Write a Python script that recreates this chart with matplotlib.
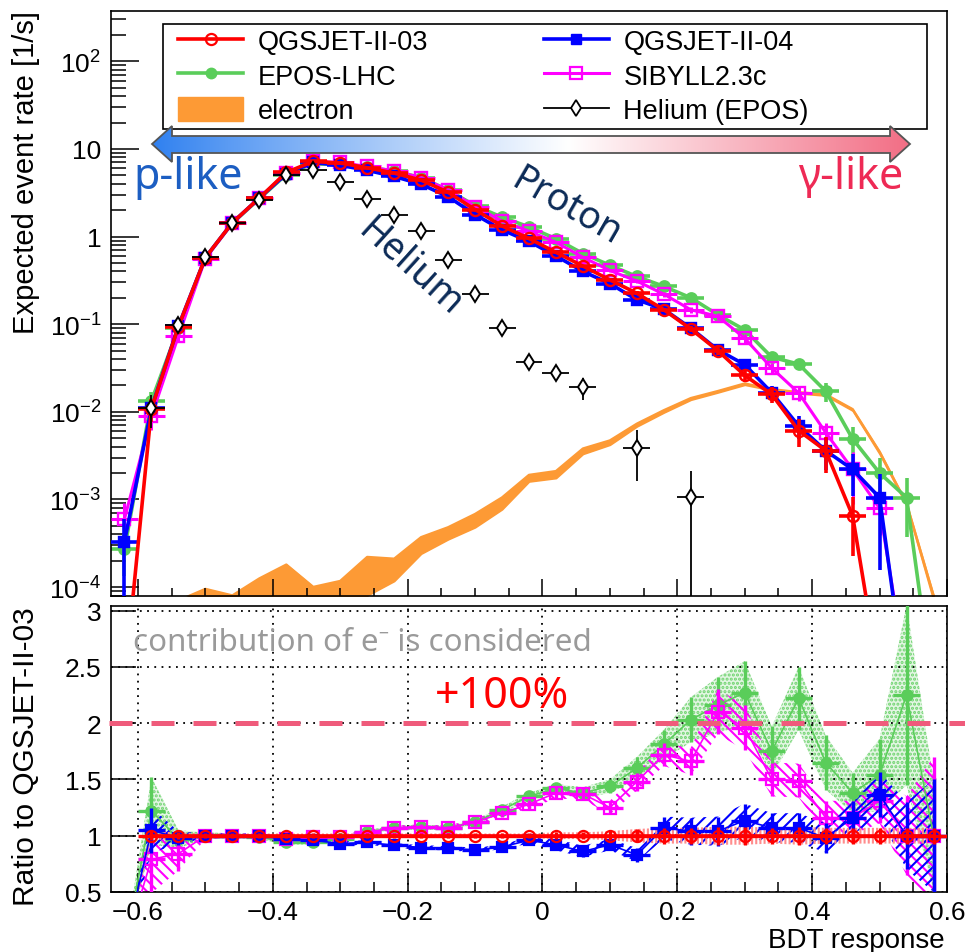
import numpy as np
import matplotlib
matplotlib.use("Agg")
import matplotlib.pyplot as plt
from matplotlib.lines import Line2D
from matplotlib.patches import Patch, Polygon, Rectangle
from matplotlib.ticker import (FixedLocator, FixedFormatter, MultipleLocator,
                               FuncFormatter, LogLocator, NullFormatter)

plt.rcParams['font.family'] = ['Liberation Sans', 'DejaVu Sans']
plt.rcParams['mathtext.fontset'] = 'custom'
plt.rcParams['mathtext.rm'] = 'Liberation Sans'
plt.rcParams['mathtext.it'] = 'Liberation Sans:italic'
plt.rcParams['mathtext.default'] = 'regular'
plt.rcParams['hatch.linewidth'] = 1.5

nan = np.nan
# ---------------- data ----------------
bdt = [-0.62, -0.58, -0.54, -0.50, -0.46, -0.42, -0.38, -0.34, -0.30, -0.26,
       -0.22, -0.18, -0.14, -0.10, -0.06, -0.02, 0.02, 0.06, 0.10, 0.14,
       0.18, 0.22, 0.26, 0.30, 0.34, 0.38, 0.42, 0.46, 0.50, 0.54, 0.58]
half_bin = 0.02

rate_qgs03 = [8e-6, 0.0108, 0.094, 0.575, 1.44, 2.75, 5.4, 7.2, 6.9, 6.1,
              5.3, 4.4, 3.2, 2.03, 1.32, 0.95, 0.66, 0.46, 0.32, 0.225,
              0.146, 0.088, 0.050, 0.026, 0.0158, 0.0061, 0.0036, 0.00065, 9e-6, 1e-7, 1e-7]
rate_qgs04 = [3.3e-4, 0.011, 0.095, 0.575, 1.44, 2.75, 5.2, 7.0, 6.5, 5.7,
              4.85, 3.95, 2.85, 1.78, 1.19, 0.88, 0.60, 0.40, 0.29, 0.19,
              0.148, 0.090, 0.051, 0.0345, 0.0165, 0.0069, 0.0036, 0.0022, 0.00105, 6e-6, 1e-7]
rate_epos = [2.7e-4, 0.0133, 0.090, 0.575, 1.42, 2.7, 5.1, 6.8, 6.7, 6.2,
             5.6, 4.7, 3.4, 2.25, 1.66, 1.29, 0.94, 0.64, 0.47, 0.35,
             0.27, 0.20, 0.128, 0.086, 0.042, 0.035, 0.0172, 0.0049, 0.0020, 0.00105, 6e-6]
rate_sibyll = [6e-4, 0.0089, 0.073, 0.56, 1.42, 2.75, 5.3, 7.2, 7.0, 6.3,
               5.6, 4.7, 3.4, 2.2, 1.5, 1.15, 0.86, 0.58, 0.41, 0.31,
               0.22, 0.146, 0.123, 0.069, 0.0316, 0.0164, 0.0058, 0.0022, 0.00079, 1e-5, 1e-7]
rate_helium = [nan, 0.011, 0.098, 0.58, 1.42, 2.6, 5.0, 5.8, 4.2, 2.7,
               1.75, 1.15, 0.54, 0.22, 0.09, 0.037, 0.028, 0.019, nan, 0.0039,
               nan, 0.00107, nan, nan, nan, nan, nan, nan, nan, nan, nan]
rate_electron_low = [1e-6, 1e-6, 1e-6, 1e-6, 1e-6, 1e-6, 1e-6, 1e-6, 1e-6, 8e-5,
                     1.17e-4, 2.4e-4, 3.5e-4, 4.8e-4, 7.7e-4, 1.6e-3, 1.75e-3, 3.3e-3, 4.2e-3, 6.8e-3,
                     0.0098, 0.0137, 0.0166, 0.0203, 0.0176, 0.0162, 0.0153, 0.0103, 0.0033, 0.00085, 7e-5]
rate_electron_high = [1e-6, 1e-6, 7e-5, 9.5e-5, 8e-5, 1.25e-4, 1.8e-4, 1.0e-4, 1.17e-4, 2.2e-4,
                      2.1e-4, 3.7e-4, 4.8e-4, 6.8e-4, 1.05e-3, 1.9e-3, 2.1e-3, 3.8e-3, 4.7e-3, 7.3e-3,
                      0.0104, 0.0143, 0.0172, 0.0210, 0.0181, 0.0167, 0.0158, 0.0107, 0.0035, 0.0009, 8e-5]

# relative uncertainties of the rates
relerr_qgs03 = [0, 0.3, 0.1, 0.04, 0.03, 0.03, 0.03, 0.03, 0.03, 0.03, 0.03, 0.03, 0.03, 0.03, 0.03,
                0.03, 0.03, 0.03, 0.04, 0.05, 0.06, 0.08, 0.1, 0.15, 0.2, 0.35, 0.45, 0.65, 0, 0, 0]
relerr_qgs04 = [0.8, 0.25, 0.1, 0.04, 0.03, 0.03, 0.03, 0.03, 0.03, 0.03, 0.03, 0.03, 0.03, 0.03, 0.03,
                0.03, 0.03, 0.03, 0.04, 0.05, 0.06, 0.08, 0.1, 0.15, 0.2, 0.3, 0.4, 0.5, 0.85, 0, 0]
relerr_epos = [0.5, 0.25, 0.1, 0.04, 0.03, 0.03, 0.03, 0.03, 0.03, 0.03, 0.03, 0.03, 0.03, 0.03, 0.03,
               0.03, 0.03, 0.03, 0.04, 0.04, 0.05, 0.06, 0.08, 0.1, 0.15, 0.15, 0.25, 0.35, 0.5, 0.65, 0]
relerr_sibyll = [0.5, 0.3, 0.12, 0.04, 0.03, 0.03, 0.03, 0.03, 0.03, 0.03, 0.03, 0.03, 0.03, 0.03, 0.03,
                 0.03, 0.03, 0.03, 0.04, 0.05, 0.06, 0.08, 0.1, 0.12, 0.15, 0.2, 0.3, 0.6, 0.5, 0, 0]
relerr_helium = [0, 0.4, 0.12, 0.05, 0.04, 0.04, 0.04, 0.04, 0.04, 0.05, 0.06, 0.07, 0.1, 0.12, 0.15,
                 0.2, 0.2, 0.28, 0, 0.58, 0, 0.97, 0, 0, 0, 0, 0, 0, 0, 0, 0]

# ratio to QGSJET-II-03 (electron contribution included)
ratio_qgs03 = [nan, 1.0, 1.0, 1.0, 1.0, 1.0, 1.0, 1.0, 1.0, 1.0, 1.0, 1.0, 1.0, 1.0, 1.0, 1.0,
               1.0, 1.0, 1.0, 1.0, 1.0, 1.0, 1.0, 1.0, 1.0, 1.0, 1.0, 1.0, 1.0, 1.0, 1.0]
ratio_err_qgs03 = [0, 0.04, 0.03, 0.02, 0.02, 0.02, 0.02, 0.02, 0.02, 0.02, 0.02, 0.02, 0.02, 0.02, 0.02,
                   0.02, 0.03, 0.03, 0.04, 0.06, 0.07, 0.07, 0.08, 0.08, 0.07, 0.08, 0.07, 0.07, 0.07, 0.07, 0.07]
ratio_epos = [0, 1.22, 0.97, 1.0, 1.0, 0.99, 0.94, 0.94, 0.97, 1.03, 1.07, 1.075, 1.07, 1.12, 1.23,
              1.35, 1.42, 1.38, 1.44, 1.60, 1.81, 2.03, 2.16, 2.27, 1.75, 2.22, 1.65, 1.38, 1.54, 2.25, 1.0]
ratio_err_epos = [0, 0.3, 0.08, 0.03, 0.02, 0.02, 0.02, 0.02, 0.02, 0.02, 0.02, 0.02, 0.02, 0.02, 0.03,
                  0.03, 0.04, 0.05, 0.06, 0.1, 0.13, 0.2, 0.25, 0.28, 0.22, 0.28, 0.24, 0.18, 0.32, 0.8, 0.5]
ratio_qgs04 = [0, 1.05, 0.98, 1.0, 1.0, 1.0, 0.97, 0.96, 0.93, 0.94, 0.915, 0.895, 0.89, 0.873, 0.90,
               0.96, 0.92, 0.86, 0.92, 0.83, 1.07, 1.04, 1.04, 1.135, 1.07, 1.07, 0.98, 1.16, 1.365, 1.0, 1.0]
ratio_err_qgs04 = [0, 0.2, 0.06, 0.02, 0.02, 0.02, 0.02, 0.02, 0.02, 0.02, 0.02, 0.02, 0.02, 0.02, 0.02,
                   0.03, 0.05, 0.05, 0.05, 0.06, 0.1, 0.12, 0.13, 0.15, 0.13, 0.13, 0.13, 0.15, 0.2, 0.3, 0.5]
ratio_sibyll = [0, 0.79, 0.84, 1.0, 1.0, 1.0, 0.97, 0.99, 0.99, 1.03, 1.07, 1.08, 1.07, 1.12, 1.20,
                1.28, 1.38, 1.37, 1.25, 1.48, 1.72, 1.66, 2.10, 1.96, 1.50, 1.49, 1.16, 1.16, 1.31, 1.0, 1.0]
ratio_err_sibyll = [0, 0.3, 0.15, 0.03, 0.02, 0.02, 0.02, 0.02, 0.02, 0.02, 0.02, 0.02, 0.02, 0.03, 0.03,
                    0.04, 0.05, 0.05, 0.06, 0.08, 0.1, 0.12, 0.2, 0.2, 0.15, 0.15, 0.15, 0.15, 0.2, 0.35, 0.7]

legend_labels = ['QGSJET-II-03', 'EPOS-LHC', 'electron', 'QGSJET-II-04', 'SIBYLL2.3c', 'Helium (EPOS)']
ytick_vals_top = [1e-4, 1e-3, 1e-2, 1e-1, 1, 10, 100]
ytick_labels_top = ['$10^{-4}$', '$10^{-3}$', '$10^{-2}$', '$10^{-1}$', '1', '10', '$10^{2}$']

# ---------------- style ----------------
C_RED, C_BLUE, C_GREEN, C_MAG = '#ff0000', '#0000ff', '#5acd5a', '#ff00ff'
C_ORANGE = '#fd9a35'
W, H = 965, 953

fig = plt.figure(figsize=(W / 100, H / 100), dpi=100)


def fx(p):
    return p / W


def fy(p):
    return 1 - p / H


ax1 = fig.add_axes([fx(111), fy(596.5), fx(947) - fx(111), fy(11.5) - fy(596.5)])
ax2 = fig.add_axes([fx(111), fy(893), fx(947) - fx(111), fy(607) - fy(893)], sharex=ax1)

x = np.array(bdt)


def draw_rate(ax, y, rel, color, marker, mfc, ms, z, lw=2.6, mew=1.7):
    y = np.asarray(y, float)
    rel = np.asarray(rel, float)
    hi = y * rel
    lo = np.minimum(y * rel, y * 0.999)
    ax.errorbar(x, y, xerr=half_bin, yerr=[lo, hi], color=color, lw=lw, elinewidth=lw,
                marker=marker, ms=ms, mfc=mfc, mec=color, mew=mew, capsize=0, zorder=z)


# electron band
ax1.fill_between(x, rate_electron_low, rate_electron_high, color=C_ORANGE, lw=1.2, zorder=1)
ax1.plot(x, rate_electron_high, color=C_ORANGE, lw=1.8, zorder=1)

draw_rate(ax1, rate_epos, relerr_epos, C_GREEN, 'o', C_GREEN, 7.5, 2)
draw_rate(ax1, rate_sibyll, relerr_sibyll, C_MAG, 's', 'none', 8, 3, lw=2.2)
draw_rate(ax1, rate_qgs04, relerr_qgs04, C_BLUE, 's', C_BLUE, 7.5, 4)
draw_rate(ax1, rate_qgs03, relerr_qgs03, C_RED, 'o', 'none', 8, 5)

he = np.asarray(rate_helium, float)
he_rel = np.asarray(relerr_helium, float)
m = ~np.isnan(he)
ax1.errorbar(x[m], he[m], xerr=half_bin,
             yerr=[np.minimum(he[m] * he_rel[m], he[m] * 0.999), he[m] * he_rel[m]],
             fmt='d', color='black', mfc='white', mec='black', ms=8, mew=1.4,
             elinewidth=1.3, capsize=0, zorder=8)

ax1.set_yscale('log')
ax1.set_ylim(8e-5, 380)
ax1.set_xlim(-0.64, 0.60)
ax1.yaxis.set_major_locator(FixedLocator(ytick_vals_top))
ax1.yaxis.set_major_formatter(FixedFormatter(ytick_labels_top))
ax1.yaxis.set_minor_locator(LogLocator(base=10, subs=np.arange(2, 10) * 1.0, numticks=30))
ax1.yaxis.set_minor_formatter(NullFormatter())
ax1.tick_params(axis='y', which='major', direction='in', length=20, width=1.1,
                left=True, right=False, labelsize=19, pad=7)
ax1.tick_params(axis='y', which='minor', direction='in', length=11, width=1.1, right=False)
ax1.xaxis.set_major_locator(MultipleLocator(0.2))
ax1.xaxis.set_minor_locator(MultipleLocator(0.05))
ax1.tick_params(axis='x', which='major', direction='in', length=12, width=1.1, top=False,
                labelbottom=False)
ax1.tick_params(axis='x', which='minor', direction='in', length=6, width=1.1, top=False)
for s in ax1.spines.values():
    s.set_linewidth(1.2)
ax1.set_ylabel('Expected event rate [1/s]', fontsize=21, loc='top')
ax1.yaxis.set_label_coords(-0.085, 1.0)

# ---------------- ratio panel ----------------
def band(ax, r, e, color, hatch, face, z):
    r = np.nan_to_num(np.asarray(r, float))
    e = np.asarray(e, float)
    ax.fill_between(x, r - e, r + e, facecolor=face, edgecolor=color, hatch=hatch,
                    lw=0, zorder=z)


band(ax2, ratio_epos, ratio_err_epos, '#6fd36f', '....', '#e3f6e3', 1)
band(ax2, ratio_sibyll, ratio_err_sibyll, C_MAG, '\\\\\\', 'none', 2)
band(ax2, ratio_qgs04, ratio_err_qgs04, C_BLUE, '///', 'none', 3)
band(ax2, ratio_qgs03, ratio_err_qgs03, '#ff8c8c', '||||', 'none', 4)


def draw_ratio(ax, r, e, color, marker, mfc, ms, z, lw=1.2):
    ax.plot(x, r, color=color, lw=lw, zorder=z)
    ax.errorbar(x, r, xerr=half_bin, yerr=e, fmt=marker, color=color, mfc=mfc, mec=color,
                ms=ms, mew=1.6, elinewidth=2.4, capsize=0, zorder=z)


draw_ratio(ax2, ratio_epos, ratio_err_epos, C_GREEN, 'o', C_GREEN, 7.5, 5)
draw_ratio(ax2, ratio_sibyll, ratio_err_sibyll, C_MAG, 's', 'none', 8, 6)
draw_ratio(ax2, ratio_qgs04, ratio_err_qgs04, C_BLUE, 's', C_BLUE, 7.5, 7)
draw_ratio(ax2, ratio_qgs03, ratio_err_qgs03, C_RED, 'o', 'none', 8, 8, lw=2.6)

ax2.axhline(2.0, xmin=-0.002, xmax=1.022, color='#ef5b7b', lw=3.6,
            ls=(0, (4.6, 3.8)), clip_on=False, zorder=9)

ax2.set_ylim(0.5, 3.04)
ax2.yaxis.set_major_locator(MultipleLocator(0.5))
ax2.yaxis.set_major_formatter(FuncFormatter(lambda v, p: f"{round(v, 2):g}"))
ax2.xaxis.set_major_locator(MultipleLocator(0.2))
ax2.xaxis.set_minor_locator(MultipleLocator(0.05))


def xfmt(v, p):
    v = round(v, 2)
    if abs(v) < 1e-9:
        return '0'
    return f"{v:g}".replace('-', '\u2212')


ax2.xaxis.set_major_formatter(FuncFormatter(xfmt))
ax2.tick_params(axis='y', which='major', direction='in', length=18, width=1.1, right=False,
                labelsize=19, pad=7)
ax2.tick_params(axis='x', which='major', direction='in', length=14, width=1.1, top=False,
                labelsize=19, pad=6)
ax2.tick_params(axis='x', which='minor', direction='in', length=7, width=1.1, top=False)
ax2.grid(which='major', ls=(0, (1, 3)), color='black', lw=1.3, zorder=0)
for s in ax2.spines.values():
    s.set_linewidth(1.2)
ax2.set_ylabel('Ratio to QGSJET-II-03', fontsize=21.5, loc='top')
ax2.yaxis.set_label_coords(-0.085, 1.0)
ax2.set_xlabel('BDT response', fontsize=20, loc='right')
ax2.xaxis.set_label_coords(0.9976, -0.122)

# ---------------- legend ----------------
handles = [
    Line2D([], [], color=C_RED, lw=2.6, marker='o', mfc='none', mec=C_RED, ms=8, mew=1.6),
    Line2D([], [], color=C_GREEN, lw=2.6, marker='o', ms=7.5),
    Patch(facecolor=C_ORANGE, edgecolor=C_ORANGE),
    Line2D([], [], color=C_BLUE, lw=2.6, marker='s', ms=7.5),
    Line2D([], [], color=C_MAG, lw=2.2, marker='s', mfc='none', ms=8, mew=1.6),
    Line2D([], [], color='black', lw=1.3, marker='d', mfc='white', ms=8, mew=1.3),
]
leg = fig.legend(handles, legend_labels, ncol=2, loc='upper left',
                 bbox_to_anchor=(fx(174), fy(25)), frameon=False, fontsize=19.5,
                 borderpad=0.15, borderaxespad=0, handlelength=2.4, handletextpad=0.55,
                 columnspacing=4.25, labelspacing=0.28, handleheight=0.95, numpoints=1)

# ---------------- overlay annotations ----------------
ov = fig.add_axes([0, 0, 1, 1], zorder=10)
ov.set_xlim(0, W)
ov.set_ylim(H, 0)
ov.axis('off')
ov.add_patch(Rectangle((163, 25), 764, 105, facecolor='none', edgecolor='black', lw=1.2))

arrow_xy = [(152, 145), (172, 127), (172, 137), (890, 137), (890, 127), (910, 145),
            (890, 163), (890, 154), (172, 154), (172, 163)]
arrow = Polygon(arrow_xy, closed=True, facecolor='none', edgecolor='#555555', lw=1.3, zorder=6)
ov.add_patch(arrow)
t = np.linspace(0, 1, 600)
c_blue = np.array([0.18, 0.50, 0.94])
c_pink = np.array([0.95, 0.43, 0.52])
grad = np.ones((len(t), 3))
left = t < 0.55
w1 = (t[left] / 0.55) ** 0.9
grad[left] = c_blue[None, :] * (1 - w1[:, None]) + w1[:, None]
w2 = (t[~left] - 0.55) / 0.45
grad[~left] = (1 - w2[:, None]) + c_pink[None, :] * w2[:, None]
img = ov.imshow(grad[None, :, :], extent=(152, 910, 163, 127), aspect='auto', zorder=5,
                interpolation='bilinear')
img.set_clip_path(arrow)
ov.set_xlim(0, W)
ov.set_ylim(H, 0)

NOTO = ['Noto Sans', 'DejaVu Sans']
ov.text(133, 189, 'p-like', color='#1c5ec2', fontsize=31, family=NOTO, ha='left', va='baseline')
ov.text(903, 189, '\u03b3-like', color='#ee2a55', fontsize=31, family=NOTO, ha='right', va='baseline')
ov.text(566, 207, 'Proton', color='#0c2b57', fontsize=27, family=NOTO, ha='center', va='center',
        rotation=-30, rotation_mode='anchor')
ov.text(410, 268, 'Helium', color='#0c2b57', fontsize=27, family=NOTO, ha='center', va='center',
        rotation=-42, rotation_mode='anchor')
ov.text(133, 643, 'contribution of e\u207b is considered', color='#9a9a9a', fontsize=22.5,
        family=NOTO, ha='left', va='center')
ov.text(435, 697, '+100%', color='#ff0000', fontsize=31, family=NOTO, ha='left', va='center')

fig.savefig('out.png', dpi=100)
